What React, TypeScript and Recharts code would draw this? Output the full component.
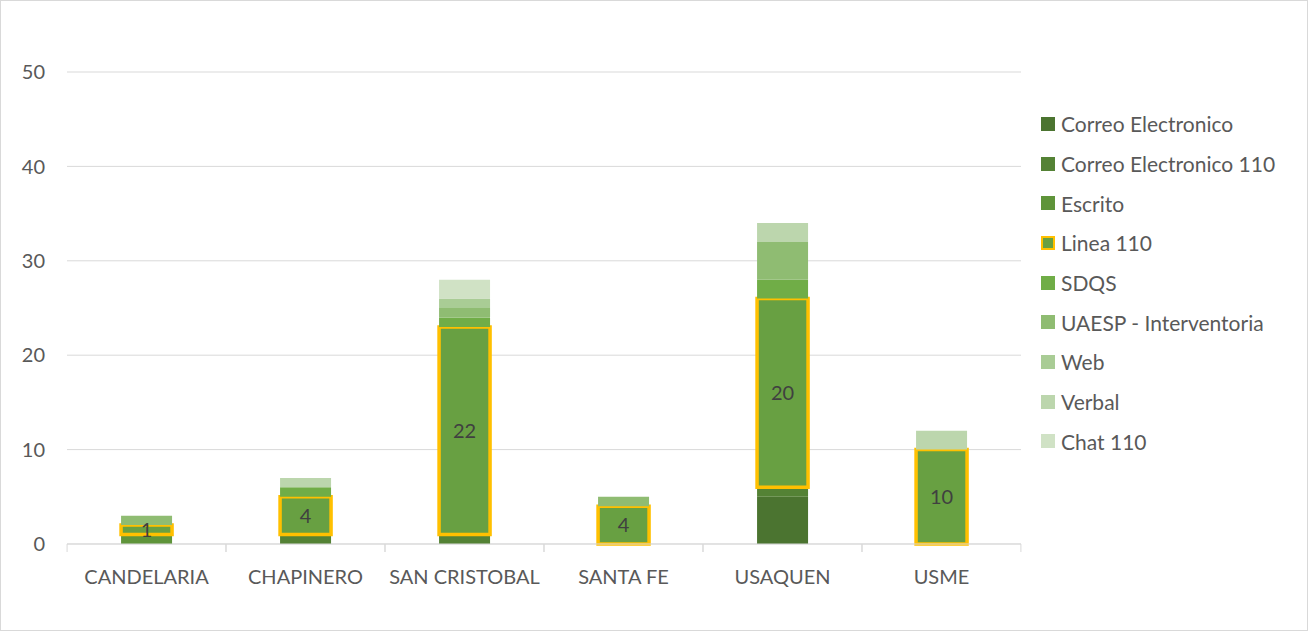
import React from 'react';
import { BarChart, Bar, XAxis, YAxis, CartesianGrid, LabelList } from 'recharts';

const categories = ['CANDELARIA', 'CHAPINERO', 'SAN CRISTOBAL', 'SANTA FE', 'USAQUEN', 'USME'];
const correoElectronico = [0, 0, 0, 0, 5, 0];
const correoElectronico110 = [0, 1, 1, 0, 1, 0];
const escrito = [1, 0, 0, 0, 0, 0];
const linea110 = [1, 4, 22, 4, 20, 10];
const sdqs = [0, 1, 1, 0, 2, 0];
const uaesp = [1, 0, 1, 1, 4, 0];
const web = [0, 0, 1, 0, 0, 0];
const verbal = [0, 1, 0, 0, 2, 2];
const chat110 = [0, 0, 2, 0, 0, 0];
const yTicks = [0, 10, 20, 30, 40, 50];

const series = [
  { key: 'Correo Electronico', values: correoElectronico, color: '#4b7430' },
  { key: 'Correo Electronico 110', values: correoElectronico110, color: '#548235' },
  { key: 'Escrito', values: escrito, color: '#5f943a' },
  { key: 'Linea 110', values: linea110, color: '#68a042', stroke: '#ffc000' },
  { key: 'SDQS', values: sdqs, color: '#70ad47' },
  { key: 'UAESP - Interventoria', values: uaesp, color: '#8fbc72' },
  { key: 'Web', values: web, color: '#a9cc95' },
  { key: 'Verbal', values: verbal, color: '#bcd6ad' },
  { key: 'Chat 110', values: chat110, color: '#d0e2c5' },
];

const data = categories.map((name, i) => {
  const row: Record<string, string | number> = { name };
  series.forEach((s) => {
    row[s.key] = s.values[i];
  });
  return row;
});

const FONT = 'Lato, "Open Sans", sans-serif';
const TEXT = '#595959';
const HALF_BAND = (1020 - 67) / 6 / 2;

// etiqueta del eje X con marcas entre categorías
const CategoryTick = (props: any) => {
  const { x, y, payload } = props;
  return (
    <g>
      <line x1={x - HALF_BAND} y1={y - 8} x2={x - HALF_BAND} y2={y} stroke="#d9d9d9" />
      <line x1={x + HALF_BAND} y1={y - 8} x2={x + HALF_BAND} y2={y} stroke="#d9d9d9" />
      <text x={x} y={y + 32} textAnchor="middle" fill={TEXT} fontSize={20} fontFamily={FONT}>
        {payload.value}
      </text>
    </g>
  );
};

// leyenda a la derecha
const LegendBox = () => (
  <div
    style={{
      position: 'absolute',
      left: 1040,
      top: 103,
      fontFamily: FONT,
      fontSize: 21,
      color: TEXT,
    }}
  >
    {series.map((s) => (
      <div key={s.key} style={{ display: 'flex', alignItems: 'center', height: 39.7, whiteSpace: 'nowrap' }}>
        <span
          style={{
            display: 'inline-block',
            width: s.stroke ? 10 : 14,
            height: s.stroke ? 10 : 14,
            background: s.color,
            border: s.stroke ? `2px solid ${s.stroke}` : 'none',
            marginRight: 6,
          }}
        />
        <span>{s.key}</span>
      </div>
    ))}
  </div>
);

export default function App() {
  return (
    <div
      style={{
        position: 'absolute',
        left: 0,
        top: 0,
        width: 1306,
        height: 629,
        border: '1px solid #d9d9d9',
        background: '#fff',
      }}
    >
      <BarChart
        width={1306}
        height={629}
        data={data}
        margin={{ top: 71, right: 286, left: 26, bottom: 46 }}
        barCategoryGap="34%"
      >
        <CartesianGrid vertical={false} stroke="#d9d9d9" />
        <XAxis
          dataKey="name"
          axisLine={{ stroke: '#d9d9d9' }}
          tickLine={false}
          tick={<CategoryTick />}
          interval={0}
          height={40}
        />
        <YAxis
          domain={[0, 50]}
          ticks={yTicks}
          axisLine={false}
          tickLine={false}
          tickSize={0}
          tickMargin={22}
          width={40}
          tick={{ fill: TEXT, fontSize: 20, fontFamily: FONT }}
        />
        {series.map((s) => (
          <Bar
            key={s.key}
            dataKey={s.key}
            stackId="a"
            fill={s.color}
            stroke={s.stroke}
            strokeWidth={s.stroke ? 3.5 : 0}
            isAnimationActive={false}
          >
            {s.stroke && (
              <LabelList dataKey={s.key} position="center" fill="#404040" fontSize={20} fontFamily={FONT} />
            )}
          </Bar>
        ))}
      </BarChart>
      <LegendBox />
    </div>
  );
}
